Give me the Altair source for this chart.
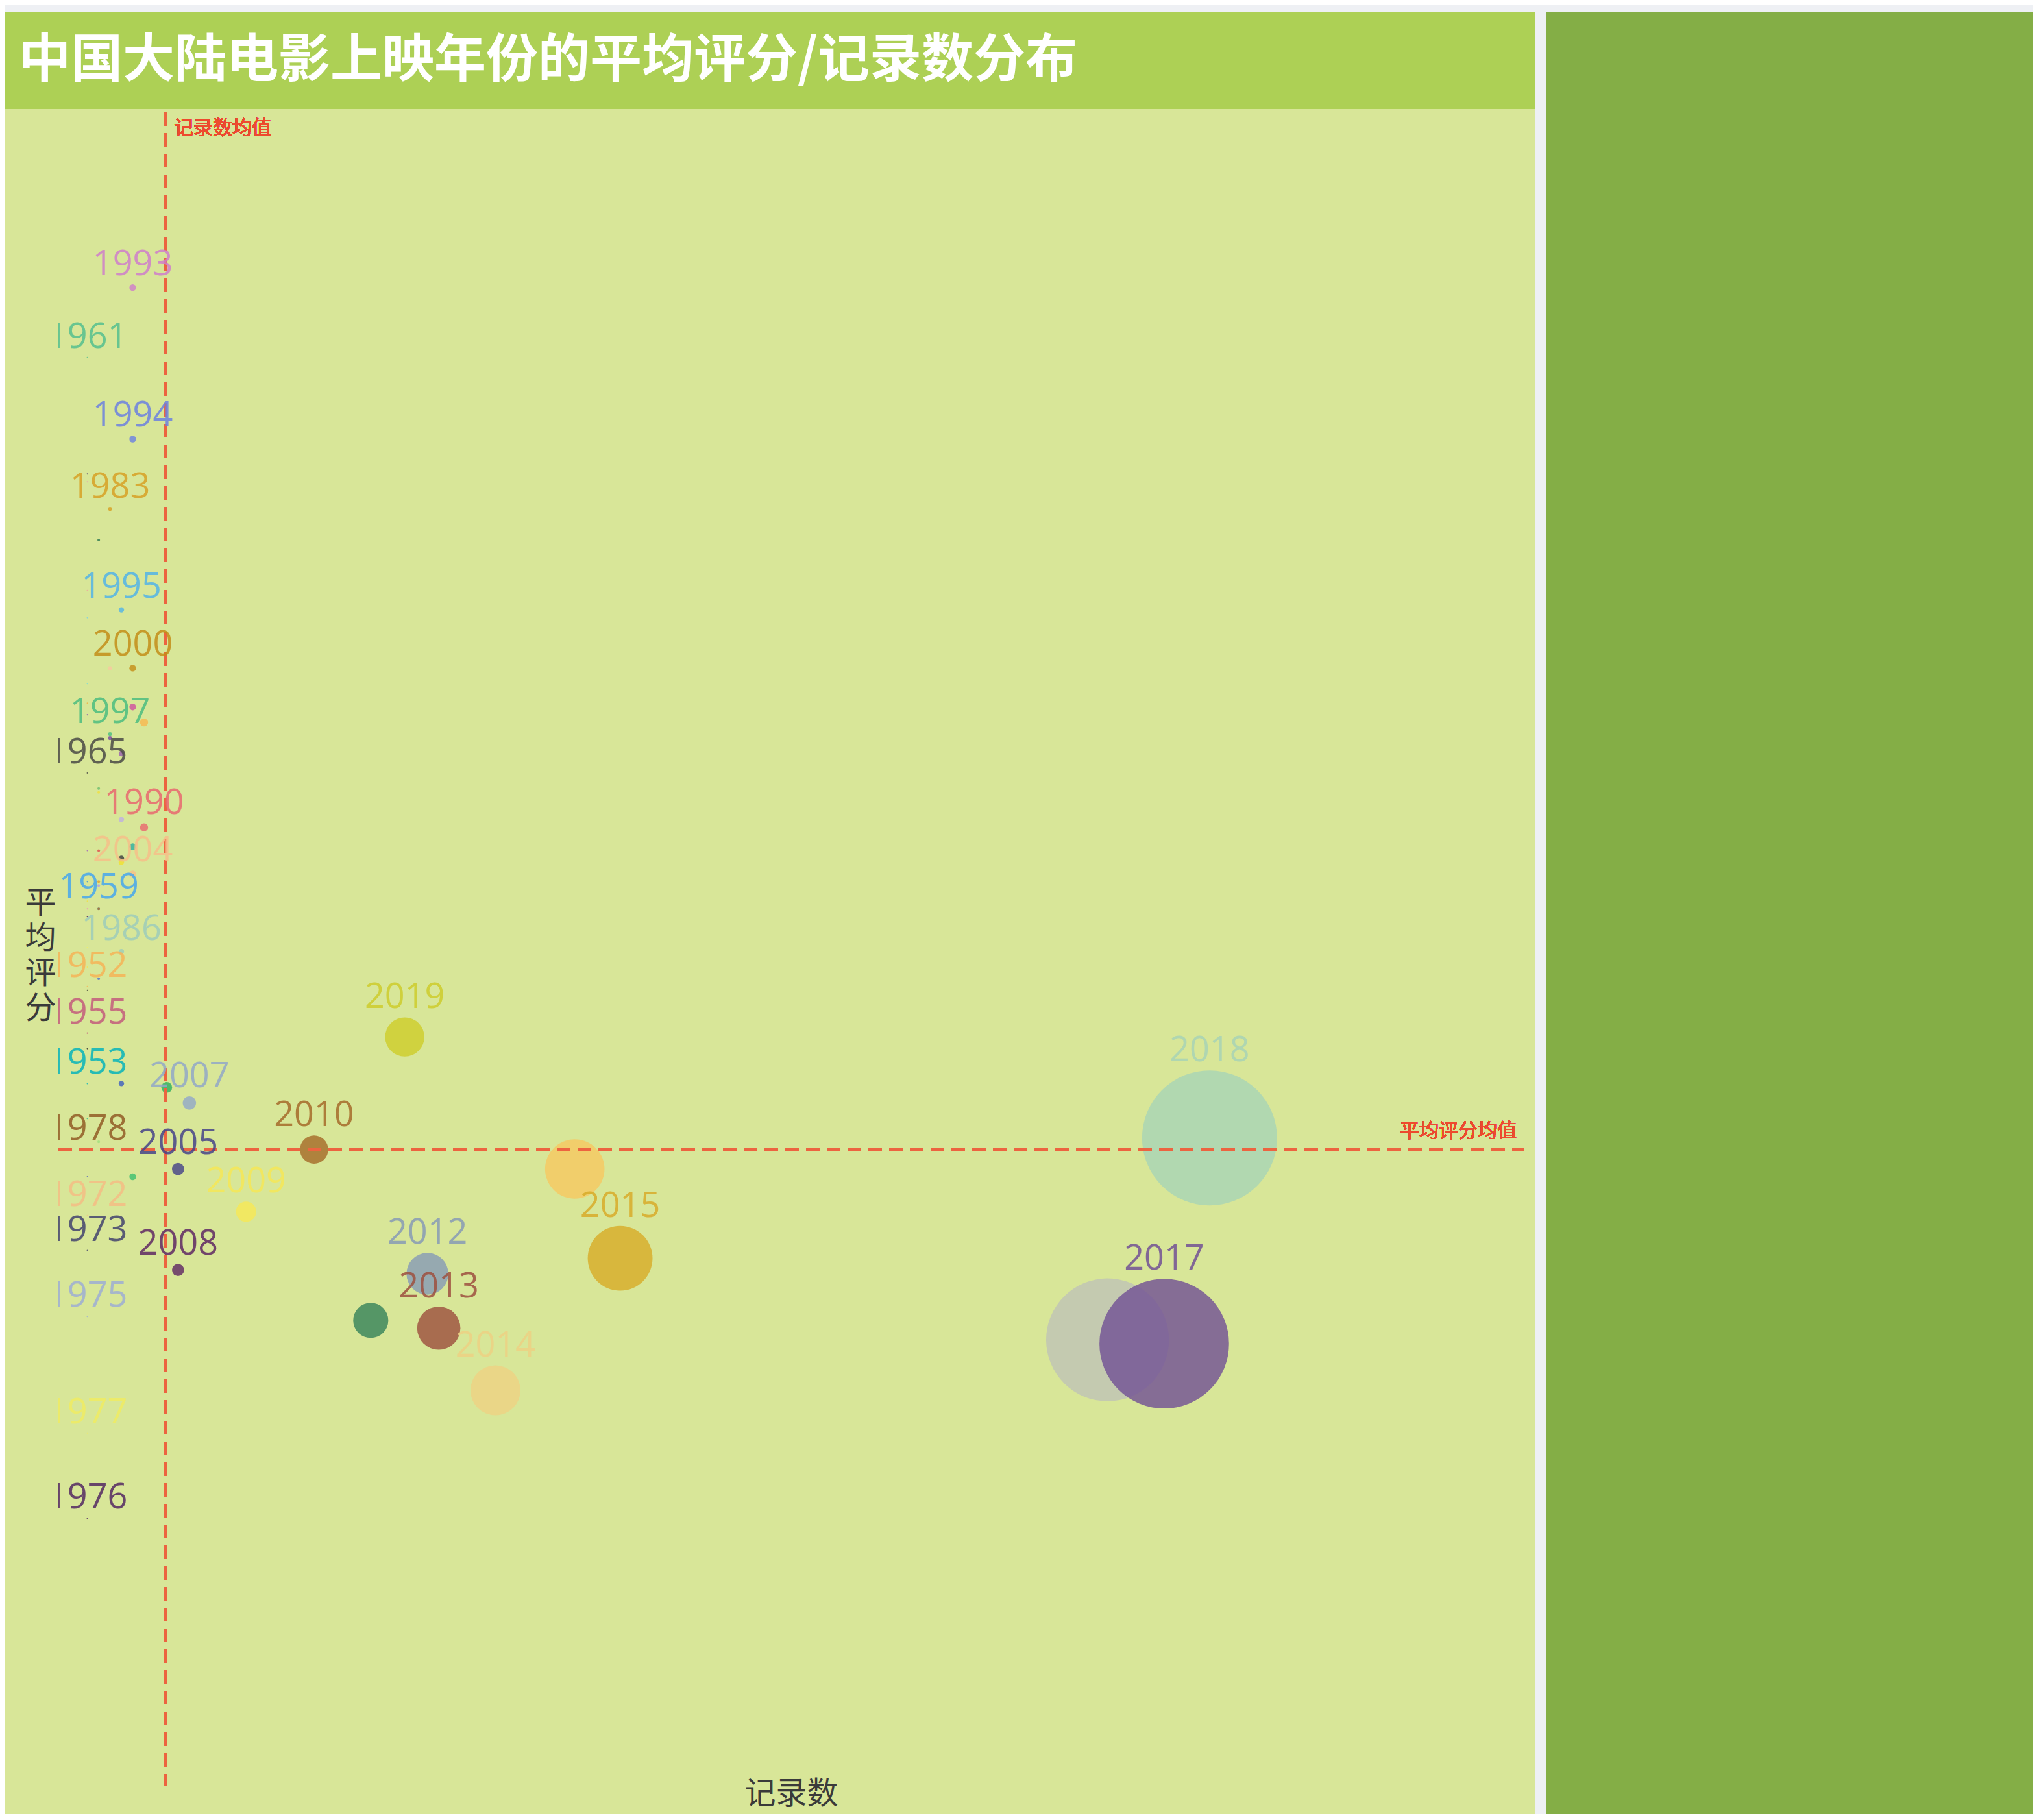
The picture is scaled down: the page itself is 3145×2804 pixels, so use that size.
import altair as alt
import pandas as pd

FONT = "Noto Sans CJK SC"
LABEL_FONT = "Open Sans"

TITLE = "中国大陆电影上映年份的平均评分/记录数分布"
X_TITLE = "记录数"
Y_TITLE = ["平", "均", "评", "分"]
MEAN_COUNT_LABEL = "记录数均值"
MEAN_RATING_LABEL = "平均评分均值"

# ---- data ----
YEARS = [
    1993, 1961, 1994, 1983, 1995, 2000, 1997, 1965, 1990, 2004, 1959, 1986,
    1952, 1955, 1953, 2007, 1978, 2005, 2010, 2009, 1972, 1973, 2008, 1975,
    2019, 2012, 2013, 2014, 2015, 2018, 2016, 2017, 1977, 1976,
    2020, 2011,
    1956, 1957, 1979, 1958, 1962, 1984, 1963, 1964, 1949, 2001, 2003, 1987,
    1996, 1980, 1981, 1998, 1950, 1982, 2002, 1999, 1992, 1951, 1985, 1988,
    1954, 1960, 1989, 1966, 1974, 1971, 1991, 1970, 1967, 1948, 2006, 1947,
    1969, 1968, 1946,
]
COUNTS = [
    5, 1, 5, 3, 4, 5, 3, 1, 6, 5, 2, 4,
    1, 1, 1, 10, 1, 9, 21, 15, 1, 1, 9, 1,
    29, 31, 32, 37, 48, 100, 91, 96, 1, 1,
    44, 26,
    1, 1, 2, 1, 1, 3, 1, 1, 1, 5, 6, 3,
    4, 2, 2, 4, 1, 2, 5, 4, 4, 1, 2, 2,
    1, 1, 2, 1, 1, 1, 2, 1, 1, 4, 8, 1,
    2, 1, 5,
]
RATINGS = [
    8.14, 7.96, 7.75, 7.57, 7.31, 7.16, 6.99, 6.89, 6.75, 6.63, 6.54, 6.43,
    6.34, 6.22, 6.09, 6.04, 5.92, 5.87, 5.92, 5.76, 5.75, 5.66, 5.61, 5.49,
    6.21, 5.60, 5.46, 5.30, 5.64, 5.95, 5.43, 5.42, 5.19, 4.97,
    5.87, 5.48,
    7.66, 7.64, 7.49, 7.29, 7.36, 7.16, 7.12, 7.07, 7.04, 7.06, 7.02, 6.98,
    6.94, 6.85, 6.84, 6.77, 6.69, 6.69, 6.70, 6.67, 6.66, 6.61, 6.61, 6.60,
    6.56, 6.54, 6.54, 6.52, 6.44, 6.39, 6.36, 6.33, 6.18, 6.09, 6.08, 6.00,
    5.94, 5.85, 5.85,
]
COLORS = [
    "#CF7FCB", "#55C08F", "#6C82E0", "#D7A125", "#53B4E7", "#C48E18", "#4DBE80", "#4A4A46",
    "#E96970", "#F6C089", "#47A7ED", "#9ECDBB", "#F6B457", "#C45C7C", "#08B4BB", "#92A8C8",
    "#925C25", "#474489", "#A66B2A", "#F6E857", "#F5BE85", "#44446E", "#602A64", "#9EAED4",
    "#CECD2C", "#889BB6", "#9E5040", "#EED284", "#D8AC2A", "#A8D4B6", "#BFC3B6", "#735295",
    "#F0EC63", "#542A63",
    "#F6C861", "#38845C",
    "#4A3A6A", "#E89AB0", "#2E7A50", "#7AD0E8", "#F0A0A0", "#F8C8A0", "#7ADCD8", "#F0B040",
    "#8A5AB0", "#D050A0", "#F8B850", "#7A4AA0", "#9A60B0", "#70C070", "#F0E040", "#C0B0E0",
    "#A060C0", "#E05050", "#30B0A0", "#404040", "#F0E030", "#4090D0", "#E0A030", "#B0A0E0",
    "#F0E040", "#F080C0", "#B07020", "#502060", "#F0F060", "#F0E050", "#5070D0", "#303030",
    "#303030", "#4060C0", "#30B060", "#30C090", "#A0E080", "#5060C0", "#40C070",
]
LABEL_YEARS = [
    1993, 1961, 1994, 1983, 1995, 2000, 1997, 1965, 1990, 2004, 1959, 1986,
    1952, 1955, 1953, 2007, 1978, 2005, 2010, 2009, 1972, 1973, 2008, 1975,
    2019, 2012, 2013, 2014, 2015, 2018, 2017, 1977, 1976,
]
MEAN_COUNT = 7.89
MEAN_RATING = 5.92

# ---- layout / style ----
PANEL_W = 2358
TITLE_H = 150
PLOT_H = 2626
RIGHT_W = 750
GAP = 14
GRID_LEFT = 82
GRID_RIGHT = 2340
GRID_TOP = 5
GRID_BOTTOM = 2584
X_DOMAIN = [-6.25, 128.75]
Y_DOMAIN = [4.21, 8.6]
PX_PER_RATING = PLOT_H / (Y_DOMAIN[1] - Y_DOMAIN[0])
D_PER_COUNT = 2.08
LABEL_GAP = 14

BG_PAGE = "#EEF0F4"
BG_TITLE = "#ADD055"
BG_PLOT = "#D8E698"
BG_RIGHT = "#84AE46"
RULE_COLOR = "#EC6440"
RULE_TEXT = "#EE4A2E"
AXIS_TEXT = "#3A3A3A"

df = pd.DataFrame({
    "year": [str(y) for y in YEARS],
    "count": COUNTS,
    "rating": RATINGS,
    "labeled": [y in LABEL_YEARS for y in YEARS],
})

x_enc = alt.X(
    "count:Q",
    scale=alt.Scale(domain=X_DOMAIN, nice=False, zero=False),
    axis=alt.Axis(
        title=X_TITLE, labels=False, ticks=False, domain=False, grid=False,
        titleX=1211, titleY=-6, titleAlign="center", titleBaseline="bottom",
        titleFontSize=48, titleFontWeight="normal", titleColor=AXIS_TEXT, titleFont=FONT,
        zindex=1,
    ),
)
y_enc = alt.Y(
    "rating:Q",
    scale=alt.Scale(domain=Y_DOMAIN, nice=False, zero=False),
    axis=alt.Axis(
        title=Y_TITLE, labels=False, ticks=False, domain=False, grid=False,
        titleAngle=0, titleX=54, titleY=1224, titleAlign="center", titleBaseline="middle",
        titleLineHeight=54, titleFontSize=48, titleFontWeight="normal",
        titleColor=AXIS_TEXT, titleFont=FONT, zindex=1,
    ),
)
color_enc = alt.Color(
    "year:N",
    scale=alt.Scale(domain=[str(y) for y in YEARS], range=COLORS),
    legend=None,
)

base = alt.Chart(df)

points = base.mark_circle(opacity=0.82).encode(
    x=x_enc,
    y=y_enc,
    size=alt.Size(
        "count:Q",
        scale=alt.Scale(type="pow", exponent=2, domain=[0, 100],
                        range=[0, (D_PER_COUNT * 100) ** 2]),
        legend=None,
    ),
    color=color_enc,
)

labels = base.transform_filter(
    alt.datum.labeled
).transform_calculate(
    label_y=f"datum.rating + ({D_PER_COUNT / 2} * datum.count + {LABEL_GAP}) / {PX_PER_RATING}"
).mark_text(
    fontSize=54, align="center", baseline="alphabetic", opacity=0.85, font=LABEL_FONT
).encode(
    x=alt.X("count:Q"),
    y=alt.Y("label_y:Q"),
    text="year:N",
    color=color_enc,
)

# the chart grid clips its contents at its left edge; a strip of the panel colour does the same
grid_edge = alt.Chart(pd.DataFrame({"v": [0]})).mark_rect(color=BG_PLOT).encode(
    x=alt.value(0), x2=alt.value(GRID_LEFT), y=alt.value(0), y2=alt.value(PLOT_H)
)

vrule = alt.Chart(df).mark_rule(
    color=RULE_COLOR, strokeWidth=4, strokeDash=[21, 11], opacity=0.9
).encode(x=alt.datum(MEAN_COUNT), y=alt.value(GRID_TOP), y2=alt.value(GRID_BOTTOM))

hrule = alt.Chart(df).mark_rule(
    color=RULE_COLOR, strokeWidth=4, strokeDash=[21, 11], opacity=0.9
).encode(y=alt.datum(MEAN_RATING), x=alt.value(GRID_LEFT), x2=alt.value(GRID_RIGHT))

vrule_text = alt.Chart(df).mark_text(
    text=MEAN_COUNT_LABEL, align="left", baseline="middle", dx=13,
    fontSize=30, color=RULE_TEXT, font=FONT
).encode(x=alt.datum(MEAN_COUNT), y=alt.value(30))

hrule_text = alt.Chart(df).mark_text(
    text=MEAN_RATING_LABEL, align="right", baseline="middle", dy=-28,
    fontSize=30, color=RULE_TEXT, font=FONT
).encode(x=alt.value(2329), y=alt.datum(MEAN_RATING))

scatter = alt.layer(
    points, vrule, hrule, vrule_text, hrule_text, labels, grid_edge
).properties(
    width=PANEL_W, height=PLOT_H,
    view=alt.ViewBackground(fill=BG_PLOT, strokeOpacity=0),
)

title_panel = alt.Chart(pd.DataFrame({"t": [TITLE]})).mark_text(
    align="left", baseline="middle", fontSize=80, fontWeight="bold",
    color="#FFFFFF", font=FONT
).encode(text="t:N", x=alt.value(21), y=alt.value(76)).properties(
    width=PANEL_W, height=TITLE_H,
    view=alt.ViewBackground(fill=BG_TITLE, strokeOpacity=0),
)

right_panel = alt.Chart(pd.DataFrame({"v": [0]})).mark_point(opacity=0).encode(
    x=alt.value(0), y=alt.value(0)
).properties(
    width=RIGHT_W, height=TITLE_H + PLOT_H,
    view=alt.ViewBackground(fill=BG_RIGHT, strokeOpacity=0),
)

left = alt.vconcat(title_panel, scatter, spacing=0)
chart = alt.hconcat(left, right_panel, spacing=GAP).properties(
    padding={"left": 0, "top": 7, "right": 0, "bottom": 0},
    background=BG_PAGE,
).configure(font=FONT).configure_view(strokeWidth=0)

chart.save("out.html", embed_options={"renderer": "svg", "actions": False})
